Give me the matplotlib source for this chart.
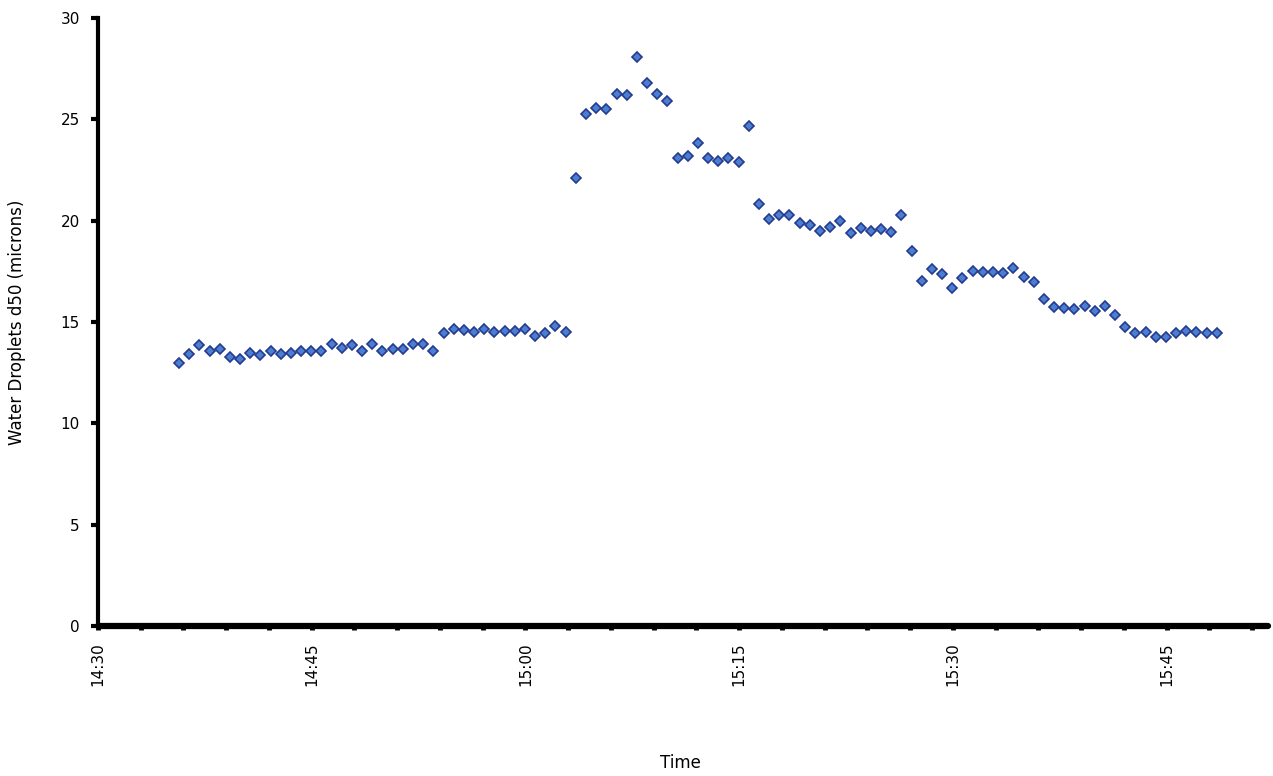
import matplotlib
matplotlib.use("Agg")
import matplotlib.pyplot as plt
import matplotlib.dates as mdates
import pandas as pd

# sampling window of the droplet analyser (date is arbitrary, only the clock is shown)
first_sample = "2011-01-01 14:35:42"
last_sample = "2011-01-01 15:48:31"
axis_start = "2011-01-01 14:30:00"
axis_end = "2011-01-01 15:52:05"

# d50 readings, microns
d50 = [
    13.0, 13.4, 13.85, 13.55, 13.65, 13.25, 13.15, 13.45, 13.35, 13.57,
    13.43, 13.45, 13.57, 13.57, 13.57, 13.92, 13.72, 13.85, 13.57, 13.93,
    13.55, 13.67, 13.67, 13.92, 13.9, 13.57, 14.47, 14.65, 14.6, 14.52,
    14.65, 14.5, 14.55, 14.55, 14.65, 14.32, 14.45, 14.82, 14.5,
    22.1, 25.25, 25.55, 25.5, 26.25, 26.2, 28.1, 26.8, 26.25, 25.9,
    23.1, 23.2, 23.85, 23.1, 22.95, 23.1, 22.9, 24.65,
    20.8, 20.1, 20.28, 20.26, 19.9, 19.8, 19.47, 19.7, 19.98, 19.37,
    19.63, 19.5, 19.6, 19.44, 20.28, 18.5, 17.02, 17.6, 17.37, 16.69,
    17.18, 17.51, 17.45, 17.45, 17.4, 17.65, 17.22, 16.97, 16.15, 15.75,
    15.7, 15.65, 15.8, 15.56, 15.8, 15.34, 14.77, 14.44, 14.5, 14.24,
    14.24, 14.47, 14.57, 14.52, 14.45, 14.44,
]

times = pd.date_range(first_sample, last_sample, periods=len(d50))

fig = plt.figure(figsize=(12.73, 7.76), dpi=100)
ax = fig.add_axes([0.0768, 0.1933, 0.919, 0.7835])

ax.plot(times, d50, linestyle="none", marker="D", markersize=5.3,
        markerfacecolor="#4a7fd0", markeredgecolor="#263a92", markeredgewidth=1.2,
        clip_on=False)

ax.set_ylim(0, 30)
ax.set_yticks(range(0, 31, 5))
ax.set_xlim(pd.Timestamp(axis_start), pd.Timestamp(axis_end))

ax.xaxis.set_major_locator(mdates.MinuteLocator(byminute=[0, 15, 30, 45]))
ax.xaxis.set_minor_locator(mdates.MinuteLocator(byminute=range(0, 60, 3)))
ax.xaxis.set_major_formatter(mdates.DateFormatter("%H:%M"))

for side in ["top", "right"]:
    ax.spines[side].set_visible(False)
ax.spines["left"].set_linewidth(3)
ax.spines["bottom"].set_linewidth(4.5)
ax.spines["bottom"].set_capstyle("round")

ax.tick_params(axis="x", which="both", direction="out", length=3, width=3.5,
               pad=9, labelsize=11, labelrotation=90)
ax.tick_params(axis="y", which="both", direction="out", length=5, width=3,
               pad=8, labelsize=11)

ax.set_ylabel("Water Droplets d50 (microns)", fontsize=12)
ax.yaxis.set_label_coords(-0.061, 0.5)
ax.set_xlabel("Time", fontsize=12)
ax.xaxis.set_label_coords(0.498, -0.21)

plt.savefig("out.png", dpi=100)
plt.close()
